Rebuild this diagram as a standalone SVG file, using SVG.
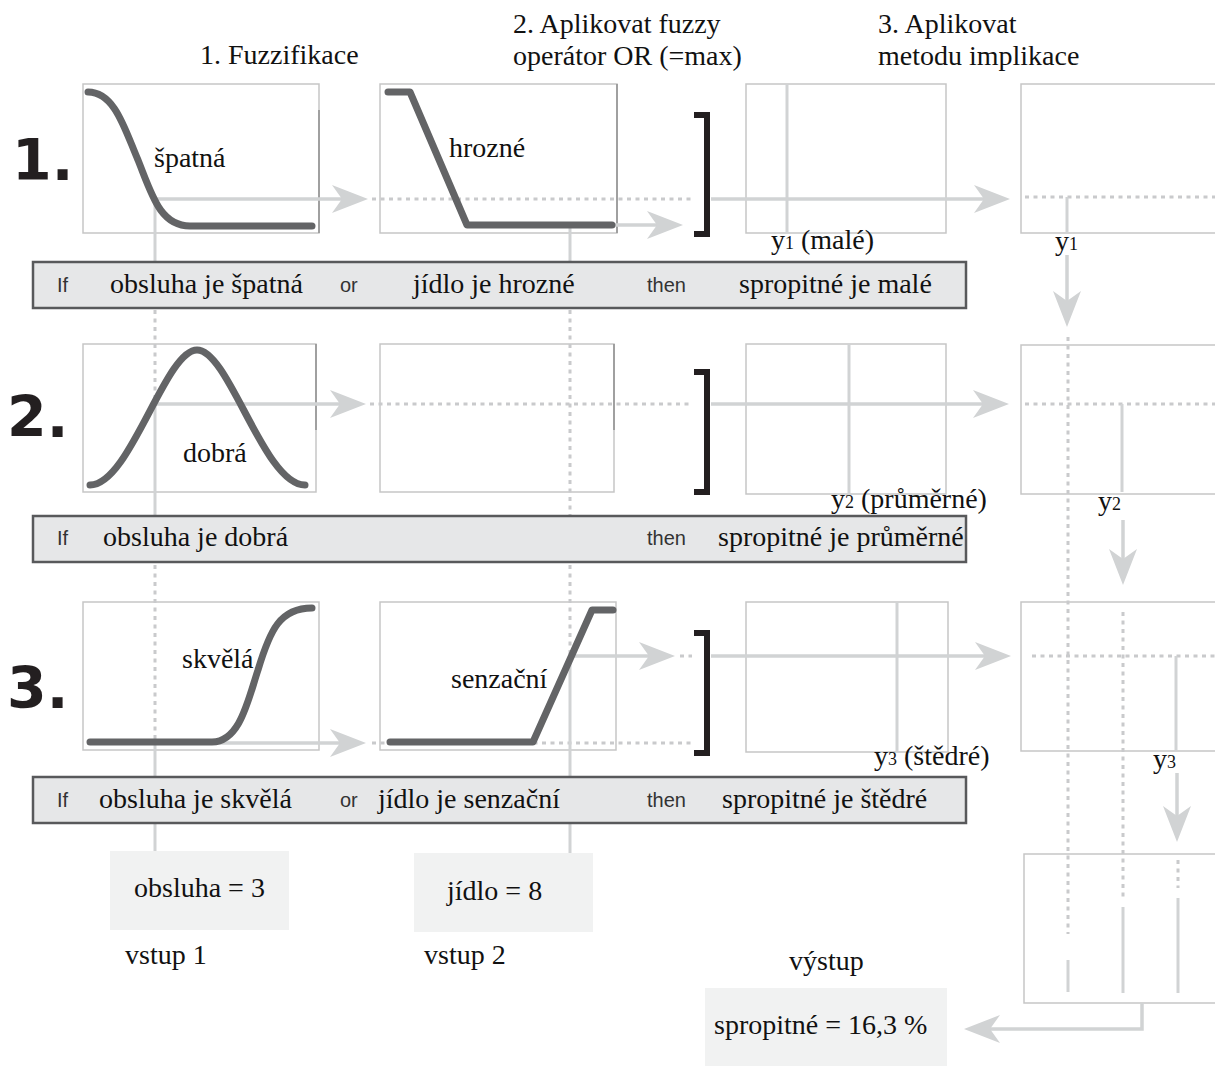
<svg xmlns="http://www.w3.org/2000/svg" width="1215" height="1066" viewBox="0 0 1215 1066">
<defs>
<style>
.box{fill:none;stroke:#c6c6c6;stroke-width:1.5}
.dk{stroke:#8f8f8f;stroke-width:1.5}
.mf{fill:none;stroke:#636466;stroke-width:7;stroke-linecap:round;stroke-linejoin:round}
.ln{fill:none;stroke:#d1d3d4;stroke-width:3.5}
.lt{fill:none;stroke:#d1d3d4;stroke-width:3}
.dt{fill:none;stroke:#c9cacc;stroke-width:3;stroke-dasharray:4 4.5}
.br{fill:none;stroke:#231f20;stroke-width:6}
.bar{fill:#e6e7e8;stroke:#58595b;stroke-width:2.5}
.inp{fill:#f1f2f2}
.t{font-family:"Liberation Serif","Times New Roman",serif;font-size:28px;fill:#111}
.s{font-family:"Liberation Sans",Arial,sans-serif;font-size:20px;fill:#333}
.num{font-family:"DejaVu Sans",sans-serif;font-weight:bold;font-size:57px;fill:#231f20}
.sub{font-size:18px}
</style>
<marker id="ah" viewBox="0 0 36 28" refX="26" refY="14" markerWidth="36" markerHeight="28" markerUnits="userSpaceOnUse" orient="auto"><path d="M0,0 L36,14 L0,28 L10,14 Z" fill="#d1d3d4"/></marker>
</defs>
<rect width="1215" height="1066" fill="#fff"/>

<!-- headings -->
<g id="headings">
<text class="t" x="200" y="64">1. Fuzzifikace</text>
<text class="t" x="513" y="33">2. Aplikovat fuzzy</text>
<text class="t" x="513" y="65">operátor OR (=max)</text>
<text class="t" x="878" y="33">3. Aplikovat</text>
<text class="t" x="878" y="65">metodu implikace</text>
<text class="num" x="12" y="180">1.</text>
<text class="num" x="7" y="437">2.</text>
<text class="num" x="7" y="708">3.</text>
</g>

<!-- membership boxes -->
<g id="box-A1"><rect class="box" x="83" y="84" width="236" height="149"/><line class="dk" x1="319" y1="110" x2="319" y2="233"/></g>
<g id="box-B1"><rect class="box" x="380" y="84" width="237" height="149"/><line class="dk" x1="617" y1="84" x2="617" y2="233"/></g>
<g id="box-C1"><rect class="box" x="746" y="84" width="200" height="149"/></g>
<g id="box-D1"><rect class="box" x="1021" y="84" width="220" height="149"/></g>
<g id="box-A2"><rect class="box" x="83" y="344" width="233" height="148"/><line class="dk" x1="316" y1="344" x2="316" y2="430"/></g>
<g id="box-B2"><rect class="box" x="380" y="344" width="234" height="148"/><line class="dk" x1="614" y1="344" x2="614" y2="430"/></g>
<g id="box-C2"><rect class="box" x="746" y="344" width="200" height="150"/></g>
<g id="box-D2"><rect class="box" x="1021" y="345" width="220" height="149"/></g>
<g id="box-A3"><rect class="box" x="83" y="602" width="236" height="148"/></g>
<g id="box-B3"><rect class="box" x="380" y="602" width="236" height="148"/></g>
<g id="box-C3"><rect class="box" x="746" y="602" width="202" height="150"/></g>
<g id="box-D3"><rect class="box" x="1021" y="602" width="220" height="149"/></g>
<g id="box-D4"><rect class="box" x="1024" y="854" width="220" height="149"/></g>

<!-- connectors -->
<g id="connectors">
<!-- row 1 -->
<line class="lt" x1="155" y1="199" x2="155" y2="262"/>
<line class="ln" x1="155" y1="199" x2="358" y2="199" marker-end="url(#ah)"/>
<line class="dt" x1="372" y1="199" x2="692" y2="199"/>
<line class="lt" x1="570" y1="225" x2="570" y2="262"/>
<line class="ln" x1="570" y1="225" x2="673" y2="225" marker-end="url(#ah)"/>
<line class="ln" x1="711" y1="199" x2="1000" y2="199" marker-end="url(#ah)"/>
<line class="dt" x1="155" y1="310" x2="155" y2="403"/>
<line class="dt" x1="570" y1="310" x2="570" y2="654"/>
<!-- row 2 -->
<line class="lt" x1="155" y1="404" x2="155" y2="515"/>
<line class="ln" x1="155" y1="404" x2="356" y2="404" marker-end="url(#ah)"/>
<line class="dt" x1="370" y1="404" x2="692" y2="404"/>
<line class="ln" x1="711" y1="404" x2="999" y2="404" marker-end="url(#ah)"/>
<line class="dt" x1="155" y1="565" x2="155" y2="742"/>
<!-- row 3 -->
<line class="lt" x1="155" y1="743" x2="155" y2="851"/>
<line class="ln" x1="155" y1="743" x2="356" y2="743" marker-end="url(#ah)"/>
<line class="dt" x1="372" y1="743" x2="692" y2="743"/>
<line class="lt" x1="570" y1="656" x2="570" y2="853"/>
<line class="ln" x1="570" y1="656" x2="665" y2="656" marker-end="url(#ah)"/>
<line class="dt" x1="680" y1="656" x2="692" y2="656"/>
<line class="ln" x1="711" y1="656" x2="1001" y2="656" marker-end="url(#ah)"/>
<!-- implication boxes -->
<line class="lt" x1="787" y1="84" x2="787" y2="233"/>
<line class="lt" x1="849" y1="344" x2="849" y2="494"/>
<line class="lt" x1="897" y1="602" x2="897" y2="752"/>
<!-- aggregation column -->
<line class="dt" x1="1025" y1="197" x2="1215" y2="197"/>
<line class="lt" x1="1067" y1="197" x2="1067" y2="233"/>
<line class="ln" x1="1067" y1="255" x2="1067" y2="317" marker-end="url(#ah)"/>
<line class="dt" x1="1025" y1="404" x2="1215" y2="404"/>
<line class="lt" x1="1122" y1="404" x2="1122" y2="492"/>
<line class="ln" x1="1123" y1="520" x2="1123" y2="575" marker-end="url(#ah)"/>
<line class="dt" x1="1068" y1="337" x2="1068" y2="934"/>
<line class="dt" x1="1032" y1="656" x2="1215" y2="656"/>
<line class="lt" x1="1176" y1="656" x2="1176" y2="751"/>
<line class="ln" x1="1177" y1="773" x2="1177" y2="832" marker-end="url(#ah)"/>
<line class="dt" x1="1123" y1="612" x2="1123" y2="899"/>
<line class="dt" x1="1178" y1="860" x2="1178" y2="888"/>
<line class="lt" x1="1068" y1="960" x2="1068" y2="992"/>
<line class="lt" x1="1123" y1="907" x2="1123" y2="993"/>
<line class="lt" x1="1178" y1="898" x2="1178" y2="993"/>
<path class="ln" d="M1142,1003 V1029 H974" marker-end="url(#ah)"/>
<!-- brackets -->
<path class="br" d="M694,115 H707 V234 H694"/>
<path class="br" d="M694,372 H707 V492 H694"/>
<path class="br" d="M694,633 H707 V753 H694"/>
</g>

<!-- membership functions -->
<g id="mf-spatna"><path class="mf" d="M88,92 C115,92 125,130 138,160 C152,195 160,226 190,226 L312,226"/><text class="t" x="154" y="167">špatná</text></g>
<g id="mf-hrozne"><path class="mf" d="M388,92 L410,92 L467,225 L612,225"/><text class="t" x="449" y="157">hrozné</text></g>
<g id="mf-dobra"><path class="mf" d="M90,485 C130,485 165,350 197,350 C229,350 264,485 305,485"/><text class="t" x="183" y="462">dobrá</text></g>
<g id="mf-skvela"><path class="mf" d="M90,742 L212,742 C240,742 248,700 258,670 C270,630 280,608 312,608"/><text class="t" x="182" y="668">skvělá</text></g>
<g id="mf-senzacni"><path class="mf" d="M390,742 L533,742 L592,610 L613,610"/><text class="t" x="451" y="688">senzační</text></g>

<!-- implication labels -->
<g id="labels">
<text class="t" x="771" y="249">y<tspan class="sub">1</tspan> (malé)</text>
<text class="t" x="831" y="508">y<tspan class="sub">2</tspan> (průměrné)</text>
<text class="t" x="874" y="765">y<tspan class="sub">3</tspan> (štědré)</text>
<text class="t" x="1055" y="250">y<tspan class="sub">1</tspan></text>
<text class="t" x="1098" y="510">y<tspan class="sub">2</tspan></text>
<text class="t" x="1153" y="768">y<tspan class="sub">3</tspan></text>
</g>

<!-- rules -->
<g id="rule-1">
<rect class="bar" x="33" y="262" width="933" height="46"/>
<text class="s" x="57" y="292">If</text>
<text class="t" x="110" y="293">obsluha je špatná</text>
<text class="s" x="340" y="292">or</text>
<text class="t" x="413" y="293">jídlo je hrozné</text>
<text class="s" x="647" y="292">then</text>
<text class="t" x="739" y="293">spropitné je malé</text>
</g>
<g id="rule-2">
<rect class="bar" x="33" y="516" width="933" height="46"/>
<text class="s" x="57" y="545">If</text>
<text class="t" x="103" y="546">obsluha je dobrá</text>
<text class="s" x="647" y="545">then</text>
<text class="t" x="718" y="546">spropitné je průměrné</text>
</g>
<g id="rule-3">
<rect class="bar" x="33" y="777" width="933" height="46"/>
<text class="s" x="57" y="807">If</text>
<text class="t" x="99" y="808">obsluha je skvělá</text>
<text class="s" x="340" y="807">or</text>
<text class="t" x="378" y="808">jídlo je senzační</text>
<text class="s" x="647" y="807">then</text>
<text class="t" x="722" y="808">spropitné je štědré</text>
</g>

<!-- inputs / output -->
<g id="input-1">
<rect class="inp" x="110" y="851" width="179" height="79"/>
<text class="t" x="134" y="897">obsluha = 3</text>
<text class="t" x="125" y="964">vstup 1</text>
</g>
<g id="input-2">
<rect class="inp" x="414" y="853" width="179" height="79"/>
<text class="t" x="447" y="900">jídlo = 8</text>
<text class="t" x="424" y="964">vstup 2</text>
</g>
<g id="output">
<text class="t" x="789" y="970">výstup</text>
<rect class="inp" x="705" y="988" width="242" height="78"/>
<text class="t" x="714" y="1034">spropitné = 16,3 %</text>
</g>
</svg>
